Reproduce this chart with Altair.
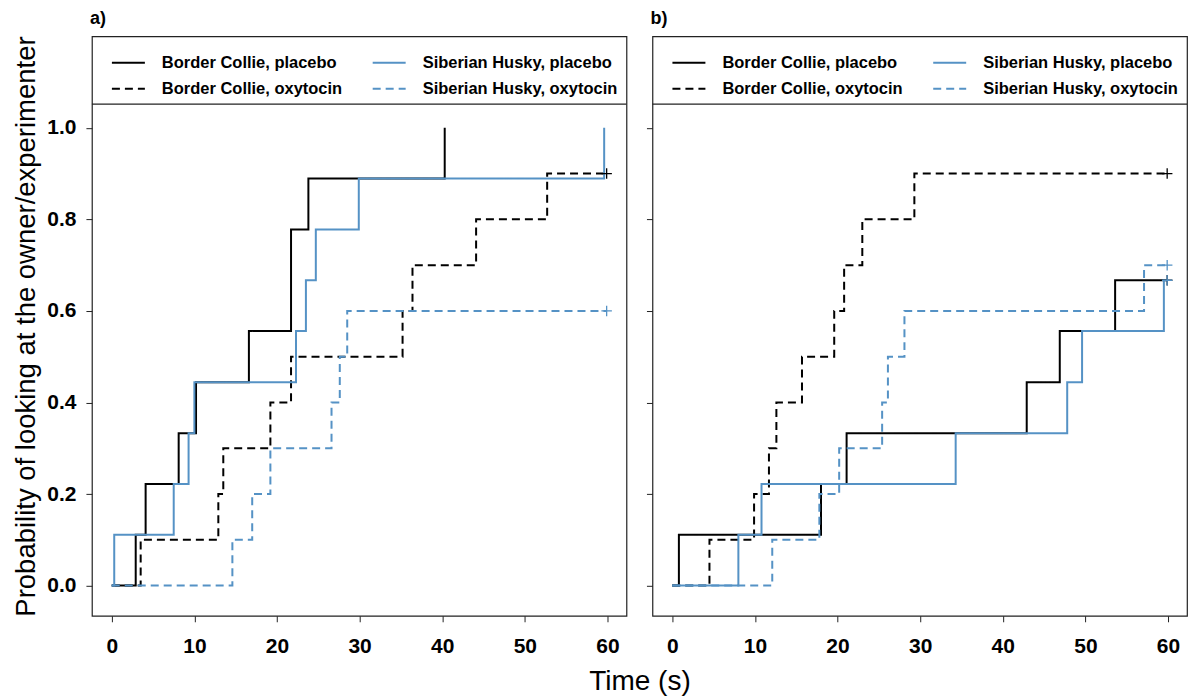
import altair as alt
import pandas as pd

GROUPS = ["Border Collie, placebo", "Border Collie, oxytocin",
          "Siberian Husky, placebo", "Siberian Husky, oxytocin"]
BLUE = "#5592c5"
COLORS = ["#000000", "#000000", BLUE, BLUE]
DASHES = [[1, 0], [8, 5], [1, 0], [8, 5]]

# ---- panel a) step curves (time s, probability)
a_bc_plc_t = [0, 2.9, 4.1, 8.1, 10.2, 16.6, 21.7, 23.8, 40.3]
a_bc_plc_p = [0, 0.111, 0.222, 0.333, 0.444, 0.556, 0.778, 0.889, 1.0]
a_bc_oxt_t = [0, 3.5, 12.9, 13.5, 19.2, 21.7, 35.2, 36.4, 44.1, 52.7, 59.9]
a_bc_oxt_p = [0, 0.1, 0.2, 0.3, 0.4, 0.5, 0.6, 0.7, 0.8, 0.9, 0.9]
a_sh_plc_t = [0, 0.3, 7.5, 9.3, 10.0, 22.3, 23.5, 24.7, 29.9, 59.6]
a_sh_plc_p = [0, 0.111, 0.222, 0.333, 0.444, 0.556, 0.667, 0.778, 0.889, 1.0]
a_sh_oxt_t = [0, 14.6, 17.0, 19.2, 26.6, 27.6, 28.5, 59.9]
a_sh_oxt_p = [0, 0.1, 0.2, 0.3, 0.4, 0.5, 0.6, 0.6]

# ---- panel b)
b_bc_plc_t = [0, 0.8, 18.0, 21.1, 42.9, 46.9, 53.6, 59.9]
b_bc_plc_p = [0, 0.111, 0.222, 0.333, 0.444, 0.556, 0.667, 0.667]
b_bc_oxt_t = [0, 4.5, 9.9, 11.7, 12.6, 15.7, 19.6, 20.8, 23.0, 29.3, 59.9]
b_bc_oxt_p = [0, 0.1, 0.2, 0.3, 0.4, 0.5, 0.6, 0.7, 0.8, 0.9, 0.9]
b_sh_plc_t = [0, 8.0, 10.8, 34.3, 47.8, 49.6, 59.5, 59.9]
b_sh_plc_p = [0, 0.111, 0.222, 0.333, 0.444, 0.556, 0.667, 0.667]
b_sh_oxt_t = [0, 12.1, 17.8, 20.2, 25.4, 26.1, 28.1, 57.1, 59.9]
b_sh_oxt_p = [0, 0.1, 0.2, 0.3, 0.4, 0.5, 0.6, 0.7, 0.7]

# censoring marks (+): panel, group, time, probability
cens_panel = ["a", "a", "b", "b", "b", "b"]
cens_group = ["Border Collie, oxytocin", "Siberian Husky, oxytocin",
              "Border Collie, oxytocin", "Border Collie, placebo",
              "Siberian Husky, placebo", "Siberian Husky, oxytocin"]
cens_t = [59.9, 59.9, 59.9, 59.9, 59.9, 59.9]
cens_p = [0.9, 0.6, 0.9, 0.667, 0.667, 0.7]

SERIES = {
    "a": {
        "Border Collie, placebo": (a_bc_plc_t, a_bc_plc_p),
        "Border Collie, oxytocin": (a_bc_oxt_t, a_bc_oxt_p),
        "Siberian Husky, placebo": (a_sh_plc_t, a_sh_plc_p),
        "Siberian Husky, oxytocin": (a_sh_oxt_t, a_sh_oxt_p),
    },
    "b": {
        "Border Collie, placebo": (b_bc_plc_t, b_bc_plc_p),
        "Border Collie, oxytocin": (b_bc_oxt_t, b_bc_oxt_p),
        "Siberian Husky, placebo": (b_sh_plc_t, b_sh_plc_p),
        "Siberian Husky, oxytocin": (b_sh_oxt_t, b_sh_oxt_p),
    },
}

rows = []
for panel, series in SERIES.items():
    for g in GROUPS:
        ts, ps = series[g]
        for i, (t, p) in enumerate(zip(ts, ps)):
            rows.append({"panel": panel, "group": g, "t": t, "p": p, "seq": i})
df = pd.DataFrame(rows)

color_of = dict(zip(GROUPS, COLORS))
cens = pd.DataFrame({"panel": cens_panel, "group": cens_group, "t": cens_t, "p": cens_p})
cens["col"] = cens["group"].map(color_of)

W, H = 535, 580
FONT = "Liberation Sans"
XDOM = [-2.4, 62.3]
YDOM = [-0.066, 1.2]
TICK_FS = 21

legend = alt.Legend(
    title=None, orient="none", legendX=19, legendY=9, columns=2,
    symbolType="stroke", symbolSize=1089, symbolStrokeWidth=2,
    labelFont=FONT, labelFontSize=16.5, labelFontWeight="bold", labelColor="black",
    labelOffset=16, labelLimit=0, columnPadding=26, rowPadding=-25, padding=0,
)


def panel(name, label):
    is_a = name == "a"
    common_x = dict(values=[0, 10, 20, 30, 40, 50, 60], domain=False, grid=False,
                    tickSize=6, tickColor="#222", labelFont=FONT, labelFontSize=TICK_FS,
                    labelFontWeight="bold", labelColor="black", labelPadding=14)
    if is_a:
        xaxis = alt.Axis(title="Time (s)", titleFont=FONT, titleFontSize=28,
                         titleFontWeight="normal", titleColor="black", titlePadding=11,
                         titleX=548, **common_x)
    else:
        xaxis = alt.Axis(title=None, **common_x)
    common_y = dict(values=[0, 0.2, 0.4, 0.6, 0.8, 1.0], domain=False, grid=False,
                    tickSize=6, tickColor="#222")
    if is_a:
        yaxis = alt.Axis(format=".1f", labelFont=FONT, labelFontSize=TICK_FS,
                         labelFontWeight="bold", labelColor="black", labelPadding=10,
                         title="Probability of looking at the owner/experimenter",
                         titleFont=FONT, titleFontSize=27.5, titleFontWeight="normal",
                         titleColor="black", titlePadding=6, **common_y)
    else:
        yaxis = alt.Axis(labels=False, title=None, **common_y)
    x = alt.X("t:Q", scale=alt.Scale(domain=XDOM, nice=False, zero=False), axis=xaxis)
    y = alt.Y("p:Q", scale=alt.Scale(domain=YDOM, nice=False, zero=False), axis=yaxis)

    lines = alt.Chart(df[df.panel == name]).mark_line(
        interpolate="step-after", strokeWidth=2
    ).encode(
        x=x, y=y,
        color=alt.Color("group:N", scale=alt.Scale(domain=GROUPS, range=COLORS), legend=legend),
        strokeDash=alt.StrokeDash("group:N", scale=alt.Scale(domain=GROUPS, range=DASHES), legend=legend),
        order="seq:Q",
    )
    marks = alt.Chart(cens[cens.panel == name]).mark_point(
        shape="M-1,0H1M0,-1V1", size=110, filled=False, strokeWidth=1.3, opacity=1
    ).encode(
        x=alt.X("t:Q", scale=alt.Scale(domain=XDOM, nice=False, zero=False)),
        y=alt.Y("p:Q", scale=alt.Scale(domain=YDOM, nice=False, zero=False)),
        color=alt.Color("col:N", scale=None),
    )
    sep = alt.Chart(pd.DataFrame({"k": [0]})).mark_rule(color="#222", strokeWidth=1.2).encode(
        x=alt.value(0), x2=alt.value(W), y=alt.value(68)
    )
    return alt.layer(lines, marks, sep).properties(
        width=W, height=H,
        title=alt.TitleParams(label, anchor="start", frame="group", font=FONT,
                              fontSize=18, fontWeight="bold", color="black", offset=8, dx=-2),
    )


chart = alt.hconcat(panel("a", "a)"), panel("b", "b)"), spacing=26, bounds="flush").resolve_legend(
    color="independent", strokeDash="independent"
).configure_view(stroke="#222", strokeWidth=1.2).properties(
    padding={"left": 12, "top": 8, "right": 3, "bottom": 0}, background="white"
)

chart.save("out.html", embed_options={"renderer": "svg", "actions": False})
